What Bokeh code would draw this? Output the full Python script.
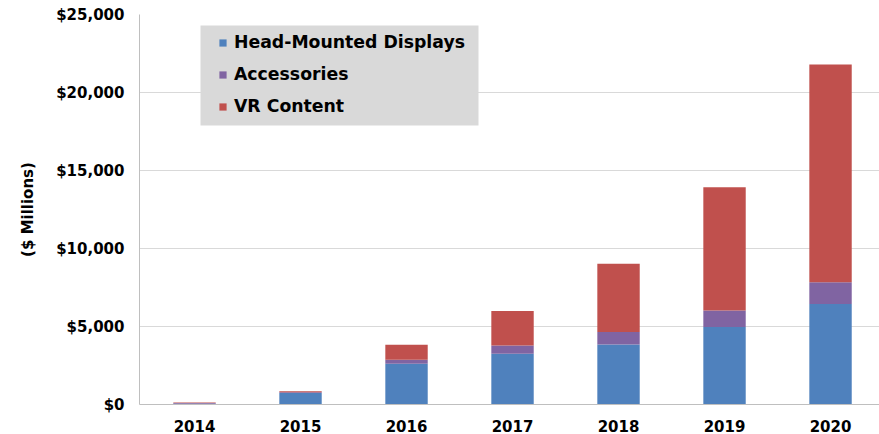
from bokeh.plotting import figure
from bokeh.models import (ColumnDataSource, Range1d, FixedTicker, NumeralTickFormatter,
                          BoxAnnotation)
from bokeh.embed import file_html
from bokeh.resources import INLINE

years = [2014, 2015, 2016, 2017, 2018, 2019, 2020]
hmd = [50, 740, 2610, 3250, 3850, 4960, 6450]
accessories = [50, 50, 260, 530, 790, 1070, 1390]
vr_content = [30, 60, 960, 2220, 4380, 7900, 13950]
y_ticks = [0, 5000, 10000, 15000, 20000, 25000]

series = ["hmd", "accessories", "vr_content"]
labels = ["Head-Mounted Displays", "Accessories", "VR Content"]
colors = ["#4f81bd", "#8064a2", "#c0504d"]

source = ColumnDataSource(dict(years=years, hmd=hmd, accessories=accessories,
                               vr_content=vr_content))

FONT = "DejaVu Sans"

p = figure(width=879, height=434, output_backend="svg", toolbar_location=None,
           x_range=Range1d(2013.481, 2020.462), y_range=Range1d(0, 25000),
           min_border_left=139, min_border_right=0, min_border_top=14,
           min_border_bottom=30)

# legend background panel (canvas pixels)
legend_box = BoxAnnotation(left=200, right=478, top=25, bottom=125,
                           left_units="canvas", right_units="canvas",
                           top_units="canvas", bottom_units="canvas",
                           fill_color="#d9d9d9", fill_alpha=1, line_color=None,
                           level="underlay")
p.add_layout(legend_box)

p.vbar_stack(series, x="years", width=0.4, color=colors, source=source,
             legend_label=labels, line_width=0)

p.outline_line_color = None
p.background_fill_color = "white"
p.border_fill_color = "white"

p.xaxis.ticker = FixedTicker(ticks=years)
p.yaxis.ticker = FixedTicker(ticks=y_ticks)
p.yaxis.formatter = NumeralTickFormatter(format="$0,0")

for ax in (p.xaxis, p.yaxis):
    ax.axis_line_color = "#bfbfbf"
    ax.major_tick_line_color = None
    ax.minor_tick_line_color = None
    ax.major_label_text_font = FONT
    ax.major_label_text_font_style = "bold"
    ax.major_label_text_font_size = "15px"
    ax.major_label_text_color = "#000000"

p.xaxis.major_label_standoff = 9
p.yaxis.major_label_standoff = 9
p.yaxis.axis_label = "($ Millions)"
p.yaxis.axis_label_text_font = FONT
p.yaxis.axis_label_text_font_style = "bold"
p.yaxis.axis_label_text_font_size = "15px"
p.yaxis.axis_label_text_color = "#000000"
p.yaxis.axis_label_standoff = 16

p.xgrid.grid_line_color = None
p.ygrid.grid_line_color = "#d9d9d9"
p.ygrid.ticker = FixedTicker(ticks=y_ticks)

lg = p.legend[0]
lg.location = (79, 288)
lg.background_fill_alpha = 0
lg.border_line_color = None
lg.padding = 0
lg.spacing = 12
lg.margin = 0
lg.label_height = 20
lg.glyph_height = 9
lg.glyph_width = 9
lg.label_standoff = 7
lg.label_text_font = FONT
lg.label_text_font_style = "bold"
lg.label_text_font_size = "17.3px"
lg.label_text_color = "#000000"

open("out.html", "w").write(file_html(p, INLINE))
